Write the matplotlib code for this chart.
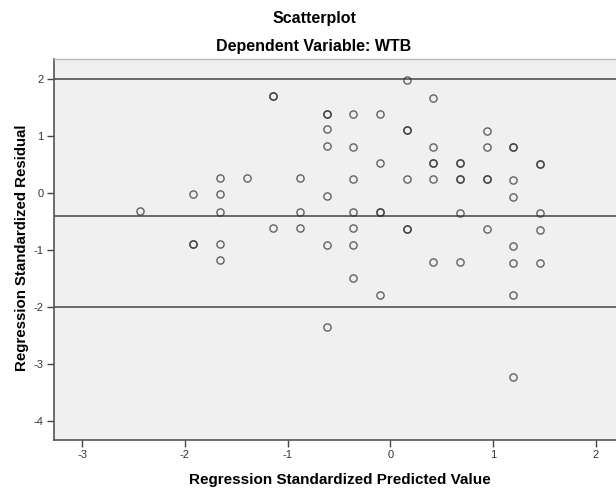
import matplotlib
matplotlib.use("Agg")
import matplotlib.pyplot as plt

plt.rcParams['font.family'] = ['Liberation Sans', 'DejaVu Sans']
plt.rcParams['axes.unicode_minus'] = False

# regression standardized predicted values (x) and residuals (y)
# points that are drawn twice show up darker, like overlapping cases in SPSS
pred = [-2.44,
        -1.92, -1.92, -1.92,
        -1.66, -1.66, -1.66, -1.66, -1.66,
        -1.40,
        -1.14, -1.14, -1.14,
        -0.88, -0.88, -0.88,
        -0.62, -0.62, -0.62, -0.62, -0.62, -0.62, -0.62,
        -0.36, -0.36, -0.36, -0.36, -0.36, -0.36, -0.36,
        -0.10, -0.10, -0.10, -0.10, -0.10,
        0.16, 0.16, 0.16, 0.16, 0.16, 0.16,
        0.42, 0.42, 0.42, 0.42, 0.42, 0.42,
        0.68, 0.68, 0.68, 0.68, 0.68, 0.68,
        0.94, 0.94, 0.94, 0.94, 0.94,
        1.20, 1.20, 1.20, 1.20, 1.20, 1.20, 1.20, 1.20,
        1.46, 1.46, 1.46, 1.46, 1.46]
resid = [-0.31,
         -0.02, -0.89, -0.89,
         0.26, -0.02, -0.32, -0.89, -1.18,
         0.26,
         1.71, 1.71, -0.61,
         0.26, -0.33, -0.61,
         1.40, 1.40, 1.12, 0.83, -0.04, -0.90, -2.35,
         1.40, 0.82, 0.25, -0.33, -0.61, -0.90, -1.49,
         1.40, 0.53, -0.33, -0.33, -1.78,
         1.98, 1.11, 1.11, 0.25, -0.62, -0.62,
         1.68, 0.82, 0.53, 0.53, 0.25, -1.21,
         0.53, 0.53, 0.25, 0.25, -0.34, -1.21,
         1.10, 0.82, 0.25, 0.25, -0.63,
         0.81, 0.81, 0.24, -0.06, -0.92, -1.22, -1.79, -3.23,
         0.51, 0.51, -0.35, -0.64, -1.22]
ref_lines = [2.0, -0.40, -2.0]
xticks = [-3, -2, -1, 0, 1, 2]
yticks = [2, 1, 0, -1, -2, -3, -4]

fig = plt.figure(figsize=(6.16, 4.93), dpi=100)
ax = fig.add_axes([0.0869, 0.1065, 0.930, 0.773])
ax.set_facecolor('#f0f0f0')

for r in ref_lines:
    ax.axhline(r, color='#444444', lw=1.1, zorder=1)

ax.plot(pred, resid, 'o', ms=5.2, mfc='none', mec='#333333', mew=1.0,
        alpha=0.75, zorder=3, linestyle='none')

ax.set_xlim(-3.28, 2.3)
ax.set_ylim(-4.34, 2.35)
ax.set_xticks(xticks)
ax.set_yticks(yticks)
ax.tick_params(direction='out', length=5, width=1, color='#444444',
               labelsize=8, labelcolor='#333333', pad=2)

for s in ['left', 'bottom']:
    ax.spines[s].set_color('#555555')
    ax.spines[s].set_linewidth(1.2)
ax.spines['top'].set_color('#bbbbbb')
ax.spines['top'].set_linewidth(1.0)
ax.spines['right'].set_visible(False)

ax.set_xlabel('Regression Standardized Predicted Value', fontsize=11,
              fontweight='bold', labelpad=9)
ax.set_ylabel('Regression Standardized Residual', fontsize=10.8,
              fontweight='bold')
ax.yaxis.set_label_coords(-0.043, 0.505)

fig.text(314 / 616, 1 - 18 / 493, 'Scatterplot', ha='center', va='center',
         fontsize=11.5, fontweight='bold')
fig.text(314 / 616, 1 - 47 / 493, 'Dependent Variable: WTB', ha='center',
         va='center', fontsize=11.5, fontweight='bold')

fig.savefig('out.png', dpi=100)
